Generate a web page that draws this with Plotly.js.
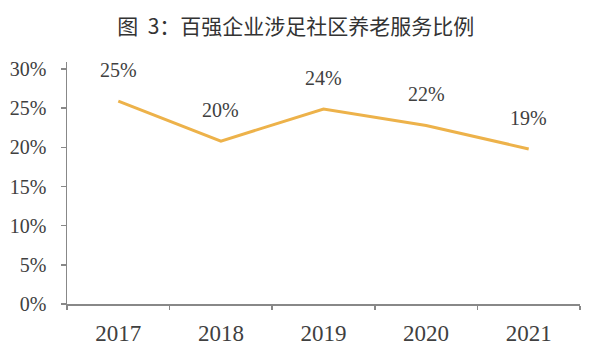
<!DOCTYPE html>
<html>
<head>
<meta charset="utf-8">
<script src="https://cdn.plot.ly/plotly-3.0.1.min.js"></script>
<style>html,body{margin:0;padding:0;background:#fff;}#chart{width:600px;height:353px;}</style>
</head>
<body>
<div id="chart"></div>
<script>
var years = ["2017", "2018", "2019", "2020", "2021"];
var lineValues = [25.9, 20.8, 24.9, 22.8, 19.8];
var labelTexts = ["25%", "20%", "24%", "22%", "19%"];
var yTickVals = [0, 5, 10, 15, 20, 25, 30];
var yTickTexts = ["0%", "5%", "10%", "15%", "20%", "25%", "30%"];

var serif = "Liberation Serif, Times New Roman, serif";
var trace = {
  x: years, y: lineValues, type: "scatter", mode: "lines",
  line: {color: "#EDB24A", width: 3}, hoverinfo: "skip"
};
var annotations = years.map(function (yr, i) {
  return {x: i, y: lineValues[i], xref: "x", yref: "y", text: labelTexts[i], showarrow: false,
    yshift: 31, font: {family: serif, size: 20, color: "#404040"}};
});
var layout = {
  width: 600, height: 353,
  margin: {l: 67, r: 20, t: 62, b: 49},
  paper_bgcolor: "#fff", plot_bgcolor: "#fff",
  showlegend: false,
  title: {text: "图\u00a0\u00a03：百强企业涉足社区养老服务比例", x: 0.493, xanchor: "center", y: 0.925, yanchor: "middle",
    font: {family: "Noto Sans CJK SC", size: 21, color: "#333"}},
  xaxis: {type: "category", range: [-0.5, 4.5], showgrid: false, zeroline: false,
    showline: true, linecolor: "#888", linewidth: 1.5,
    ticks: "outside", tickson: "boundaries", ticklen: 4, tickcolor: "#888", tickwidth: 1.5,
    ticklabelstandoff: 8,
    tickfont: {family: serif, size: 23, color: "#404040"}, fixedrange: true},
  yaxis: {range: [0, 30.9], showgrid: false, zeroline: false,
    showline: true, linecolor: "#888", linewidth: 1.5,
    ticks: "outside", ticklen: 5, tickcolor: "#888", tickwidth: 1.5,
    tickvals: yTickVals, ticktext: yTickTexts, ticklabelstandoff: 10,
    tickfont: {family: serif, size: 20, color: "#404040"}, fixedrange: true},
  annotations: annotations
};
Plotly.newPlot("chart", [trace], layout, {displayModeBar: false, staticPlot: true});
</script>
</body>
</html>
